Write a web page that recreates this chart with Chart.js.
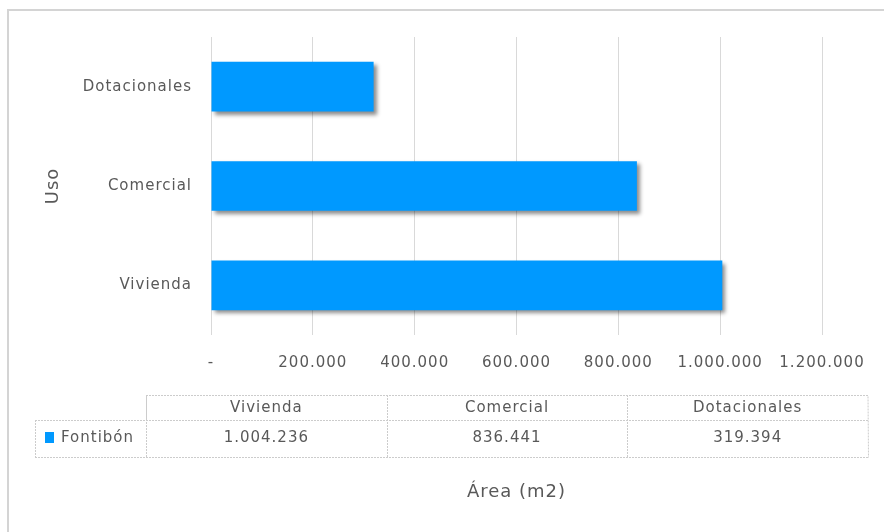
<!DOCTYPE html>
<html>
<head>
<meta charset="utf-8">
<script src="https://cdn.jsdelivr.net/npm/chart.js@4"></script>
<style>
  html, body { margin: 0; padding: 0; background: #fff; }
  #wrap { width: 884px; height: 532px; }
</style>
</head>
<body>
<div id="wrap"><canvas id="usoChart" width="884" height="532"></canvas></div>
<script>
// Data
const categories = ["Vivienda", "Comercial", "Dotacionales"];
const seriesName = "Fontibón";
const areaValues = [1004236, 836441, 319394];
const xTicks = [0, 200000, 400000, 600000, 800000, 1000000, 1200000];

const barColor = "#0099FF";
const textColor = "#595959";
const fontFamily = "DejaVu Sans";

// Number format: 1.004.236, zero as "-"
function fmt(v) {
  if (v === 0) return "-";
  return String(Math.round(v)).replace(/\B(?=(\d{3})+(?!\d))/g, ".");
}

// Wider text like the original (letter spacing on the whole canvas)
const spacing = {
  id: "spacing",
  beforeUpdate(chart) { chart.ctx.letterSpacing = "1px"; },
  beforeDraw(chart) { chart.ctx.letterSpacing = "1px"; }
};

// Shadow under the bars
const barShadow = {
  id: "barShadow",
  beforeDatasetsDraw(chart) {
    const c = chart.ctx;
    c.save();
    c.shadowColor = "rgba(0,0,0,0.45)";
    c.shadowOffsetX = 3;
    c.shadowOffsetY = 3;
    c.shadowBlur = 4;
  },
  afterDatasetsDraw(chart) {
    chart.ctx.restore();
  }
};

// Outer frame + data table under the axis
const frameAndTable = {
  id: "frameAndTable",
  afterDraw(chart) {
    const c = chart.ctx;
    c.save();

    // frame
    c.strokeStyle = "#d4d4d4";
    c.lineWidth = 2;
    c.beginPath();
    c.moveTo(8, 532);
    c.lineTo(8, 10);
    c.lineTo(884, 10);
    c.stroke();

    // table
    const legLeft = 35, left = 146, right = 868;
    const top = 395, mid = 420, bottom = 457;
    const colW = (right - left) / categories.length;

    c.strokeStyle = "#cccccc";
    c.lineWidth = 1;
    c.setLineDash([2, 1]);
    c.beginPath();
    c.moveTo(left + 0.5, mid); c.lineTo(left + 0.5, top + 0.5); c.lineTo(right, top + 0.5); c.lineTo(right + 0.5, bottom + 0.5);
    c.moveTo(legLeft, mid + 0.5); c.lineTo(right, mid + 0.5);
    c.moveTo(legLeft, bottom + 0.5); c.lineTo(right, bottom + 0.5);
    c.moveTo(legLeft + 0.5, mid); c.lineTo(legLeft + 0.5, bottom);
    for (let i = 0; i < categories.length; i++) {
      const x = Math.round(left + colW * i) + 0.5;
      c.moveTo(x, top); c.lineTo(x, bottom);
    }
    c.stroke();
    c.setLineDash([]);

    c.fillStyle = textColor;
    c.font = "15px '" + fontFamily + "'";
    c.textAlign = "center";
    c.textBaseline = "middle";
    categories.forEach((cat, i) => {
      const cx = left + colW * (i + 0.5);
      c.fillText(cat, cx, (top + mid) / 2 + 1);
      c.fillText(fmt(areaValues[i]), cx, (mid + bottom) / 2);
    });

    // legend key
    c.fillStyle = barColor;
    c.fillRect(45, 432, 9, 11);
    c.fillStyle = textColor;
    c.textAlign = "left";
    c.fillText(seriesName, 61, 438);

    c.restore();
  }
};

const ctx = document.getElementById("usoChart").getContext("2d");
const usoChart = new Chart(ctx, {
  type: "bar",
  data: {
    labels: categories,
    datasets: [{
      label: seriesName,
      data: areaValues,
      backgroundColor: barColor,
      borderWidth: 0,
      categoryPercentage: 1,
      barPercentage: 0.5
    }]
  },
  options: {
    indexAxis: "y",
    responsive: false,
    animation: false,
    layout: { padding: { left: 8, right: 62, top: 37, bottom: 0 } },
    plugins: {
      legend: { display: false },
      title: { display: false },
      tooltip: { enabled: false }
    },
    scales: {
      x: {
        min: 0,
        max: 1200000,
        afterBuildTicks(scale) {
          scale.ticks = xTicks.map(v => ({ value: v }));
        },
        afterFit(scale) { scale.height = 197; },
        grid: { color: "#d9d9d9", drawTicks: false },
        border: { display: false },
        ticks: {
          color: textColor,
          padding: 19,
          maxRotation: 0,
          font: { family: fontFamily, size: 15 },
          callback: v => fmt(v)
        },
        title: {
          display: true,
          text: "Área (m2)",
          color: textColor,
          font: { family: fontFamily, size: 18 },
          padding: { top: 0, bottom: 29 }
        }
      },
      y: {
        reverse: true,
        afterFit(scale) { scale.width = 203; },
        grid: { display: false, drawTicks: false },
        border: { display: false },
        ticks: {
          color: textColor,
          padding: 19,
          font: { family: fontFamily, size: 15 }
        },
        title: {
          display: true,
          text: "Uso",
          color: textColor,
          font: { family: fontFamily, size: 18 },
          padding: { top: 35, bottom: 0 }
        }
      }
    }
  },
  plugins: [spacing, barShadow, frameAndTable]
});
</script>
</body>
</html>
